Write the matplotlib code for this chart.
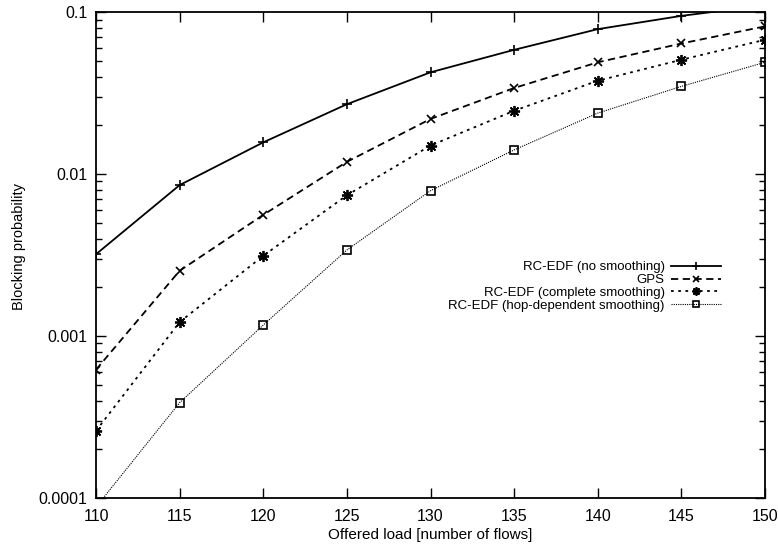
import numpy as np
import matplotlib
matplotlib.use("Agg")
import matplotlib.pyplot as plt
from matplotlib.ticker import FixedLocator, FixedFormatter, LogLocator, NullFormatter

plt.rcParams['font.family'] = ['Liberation Sans', 'DejaVu Sans']

load = [110, 115, 120, 125, 130, 135, 140, 145, 150]
no_smooth = [0.0032, 0.00855, 0.0157, 0.027, 0.0425, 0.0585, 0.0785, 0.0948, 0.11]
gps = [0.00062, 0.00253, 0.0056, 0.0119, 0.0219, 0.034, 0.049, 0.064, 0.0817]
complete = [0.00026, 0.00122, 0.00313, 0.0074, 0.015, 0.0246, 0.0377, 0.0508, 0.0675]
hop_dep = [0.000088, 0.000388, 0.00117, 0.0034, 0.0079, 0.0141, 0.0238, 0.0348, 0.049]

labels = ["RC-EDF (no smoothing)", "GPS", "RC-EDF (complete smoothing)",
          "RC-EDF (hop-dependent smoothing)"]

fig = plt.figure(figsize=(7.78, 5.5), dpi=100)
ax = fig.add_axes([0.1234, 0.0945, 0.86, 0.8835])

ax.plot(load, no_smooth, color='black', lw=1.3, ls='-', marker='+', ms=7, mew=1.2,
        label=labels[0])
ax.plot(load, gps, color='black', lw=1.3, ls=(0, (4, 2.5)), marker='x', ms=6, mew=1.2,
        label=labels[1])
ax.plot(load, complete, color='black', lw=1.3, ls=(0, (1.5, 2.5)), marker=(8, 2, 0), ms=8,
        mew=1.3, label=labels[2])
ax.plot(load, hop_dep, color='black', lw=0.8, ls=(0, (1, 1)), marker='s', ms=6, mew=1.2,
        mfc='none', label=labels[3])

ax.set_yscale('log')
ax.set_xlim(110, 150)
ax.set_ylim(0.0001, 0.1)
ax.yaxis.set_major_locator(FixedLocator([0.0001, 0.001, 0.01, 0.1]))
ax.yaxis.set_major_formatter(FixedFormatter(["0.0001", "0.001", "0.01", "0.1"]))
ax.yaxis.set_minor_locator(LogLocator(base=10, subs=np.arange(2, 10)))
ax.yaxis.set_minor_formatter(NullFormatter())
ax.set_xticks(load)

ax.tick_params(which='both', direction='in', top=True, right=True, labelsize=11.5, width=1)
ax.tick_params(which='major', length=7)
ax.tick_params(which='minor', length=4)
ax.tick_params(axis='x', pad=8)
ax.tick_params(axis='y', pad=6)
for s in ax.spines.values():
    s.set_linewidth(1.3)

ax.set_xlabel("Offered load [number of flows]", fontsize=11, labelpad=3)
ax.set_ylabel("Blocking probability", fontsize=10.5)
ax.yaxis.set_label_coords(-0.105, 0.518)

leg = ax.legend(loc='upper right', bbox_to_anchor=(0.934, 0.535), bbox_transform=fig.transFigure,
                frameon=False, markerfirst=False, fontsize=9.5, handlelength=3.8,
                handletextpad=0.5, labelspacing=0.05, borderaxespad=0, markerscale=0.75)

fig.savefig("out.png", dpi=100)
